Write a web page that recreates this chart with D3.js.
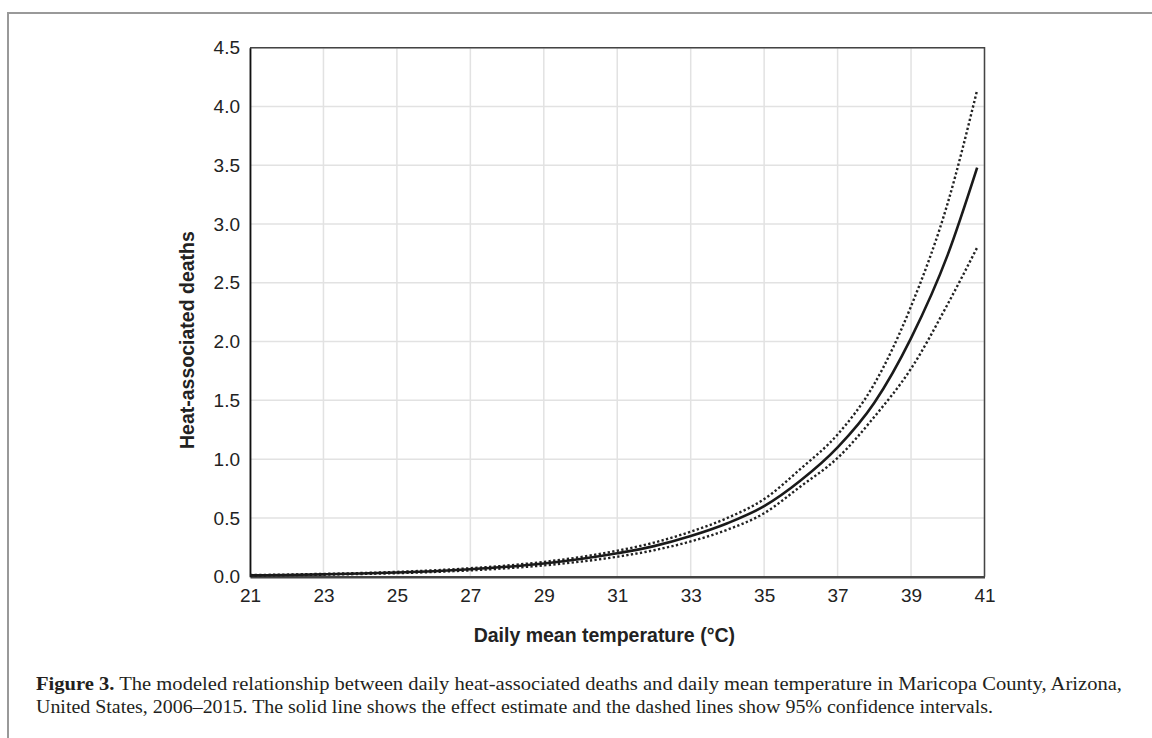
<!DOCTYPE html>
<head><style>
body { margin: 0; background: #fff; }
svg { display: block; background-color: #fff; }
</style></head>
<body>
    <div class="container"></div>
    <script src="https://d3js.org/d3.v7.min.js"></script>
    <script>
        // daily mean temperature (deg C) and modeled deaths
        var temps    = [21, 22, 23, 24, 25, 26, 27, 28, 29, 30, 31, 32, 33, 34, 35, 36, 37, 38, 39, 40, 40.8];
        var estimate = [0.011, 0.015, 0.020, 0.027, 0.036, 0.047, 0.063, 0.084, 0.112, 0.150, 0.199, 0.260, 0.346, 0.455, 0.600, 0.820, 1.100, 1.480, 2.030, 2.740, 3.480];
        var upper    = [0.014, 0.018, 0.024, 0.031, 0.041, 0.054, 0.072, 0.095, 0.126, 0.167, 0.221, 0.290, 0.383, 0.500, 0.660, 0.920, 1.210, 1.640, 2.300, 3.180, 4.140];
        var lower    = [0.009, 0.013, 0.017, 0.023, 0.030, 0.040, 0.054, 0.072, 0.096, 0.128, 0.170, 0.225, 0.300, 0.400, 0.540, 0.770, 1.010, 1.360, 1.770, 2.320, 2.800];
        var xTicks   = [21, 23, 25, 27, 29, 31, 33, 35, 37, 39, 41];
        var yTicks   = [0, 0.5, 1, 1.5, 2, 2.5, 3, 3.5, 4, 4.5];
        var captionBold = 'Figure 3.';
        var captionLines = [
            ' The modeled relationship between daily heat-associated deaths and daily mean temperature in Maricopa County, Arizona,',
            'United States, 2006\u20132015. The solid line shows the effect estimate and the dashed lines show 95% confidence intervals.'
        ];

        var W = 1152, H = 738;
        var svg = d3.select('.container')
                    .append('svg')
                    .attr('width', W)
                    .attr('height', H);

        var x = d3.scaleLinear().domain([21, 41]).range([250, 984.5]);
        var y = d3.scaleLinear().domain([0, 4.5]).range([576.7, 47.7]);

        // page frame (top and left rule)
        svg.append('path')
           .attr('d', 'M8,' + H + 'V13H' + W)
           .attr('fill', 'none')
           .attr('stroke', '#999')
           .attr('stroke-width', 2);

        // grid
        var grid = svg.append('g');
        grid.selectAll('.vg').data(xTicks).enter().append('line')
            .attr('x1', d => x(d)).attr('x2', d => x(d))
            .attr('y1', y(0)).attr('y2', y(4.5))
            .attr('stroke', '#e2e2e2').attr('stroke-width', 1.5);
        grid.selectAll('.hg').data(yTicks).enter().append('line')
            .attr('x1', x(21)).attr('x2', x(41))
            .attr('y1', d => y(d)).attr('y2', d => y(d))
            .attr('stroke', '#e2e2e2').attr('stroke-width', 1.5);

        // plot frame: top/right in grey, axes darker
        svg.append('path')
           .attr('d', 'M' + x(21) + ',' + y(4.5) + 'H' + x(41) + 'V' + y(0))
           .attr('fill', 'none').attr('stroke', '#444').attr('stroke-width', 1.5);

        var xAxis = d3.axisBottom(x).tickValues(xTicks).tickSize(0).tickPadding(12)
                      .tickFormat(d3.format('d'));
        var yAxis = d3.axisLeft(y).tickValues(yTicks).tickSize(0).tickPadding(10)
                      .tickFormat(d3.format('.1f'));

        var gx = svg.append('g')
                    .attr('transform', 'translate(0,' + y(0) + ')')
                    .call(xAxis);
        var gy = svg.append('g')
                    .attr('transform', 'translate(' + x(21) + ',0)')
                    .call(yAxis);
        [gx, gy].forEach(function(g) {
            g.selectAll('text')
             .attr('font-family', 'Liberation Sans, Arial, sans-serif')
             .attr('font-size', 19)
             .attr('fill', '#222');
        });
        gx.select('.domain').attr('stroke', '#444').attr('stroke-width', 2.5);
        gy.select('.domain').attr('stroke', '#111').attr('stroke-width', 1.8);

        // curves
        var rows = temps.map((t, i) => ({ t: t, est: estimate[i], lo: lower[i], hi: upper[i] }));
        function curve(key) {
            return d3.line()
                     .x(d => x(d.t))
                     .y(d => y(d[key]))
                     .curve(d3.curveMonotoneX);
        }
        ['hi', 'lo'].forEach(function(k) {
            svg.append('path')
               .datum(rows)
               .attr('d', curve(k))
               .attr('fill', 'none')
               .attr('stroke', '#222')
               .attr('stroke-width', 2.4)
               .attr('stroke-dasharray', '2.3,2.3');
        });
        svg.append('path')
           .datum(rows)
           .attr('d', curve('est'))
           .attr('fill', 'none')
           .attr('stroke', '#1a1a1a')
           .attr('stroke-width', 2.6);

        // axis titles
        svg.append('text')
           .attr('x', 735).attr('y', 641.5)
           .attr('text-anchor', 'end')
           .attr('font-family', 'Liberation Sans, Arial, sans-serif')
           .attr('font-weight', 'bold')
           .attr('font-size', 19.5)
           .attr('fill', '#222')
           .text('Daily mean temperature (\u00b0C)');
        svg.append('text')
           .attr('transform', 'translate(194,449) rotate(-90)')
           .attr('text-anchor', 'start')
           .attr('font-family', 'Liberation Sans, Arial, sans-serif')
           .attr('font-weight', 'bold')
           .attr('font-size', 19.5)
           .attr('fill', '#222')
           .text('Heat-associated deaths');

        // caption
        var cap = svg.append('g')
                     .attr('font-family', 'Liberation Serif, Times New Roman, serif')
                     .attr('font-size', 18)
                     .attr('fill', '#231f20');
        var l1 = cap.append('text').attr('x', 36).attr('y', 690);
        l1.append('tspan').attr('font-weight', 'bold').text(captionBold);
        l1.append('tspan').text(captionLines[0]);
        l1.attr('textLength', 1086).attr('lengthAdjust', 'spacingAndGlyphs');
        cap.append('text').attr('x', 36).attr('y', 713)
           .attr('textLength', 957).attr('lengthAdjust', 'spacingAndGlyphs')
           .text(captionLines[1]);
    </script>
</body>
